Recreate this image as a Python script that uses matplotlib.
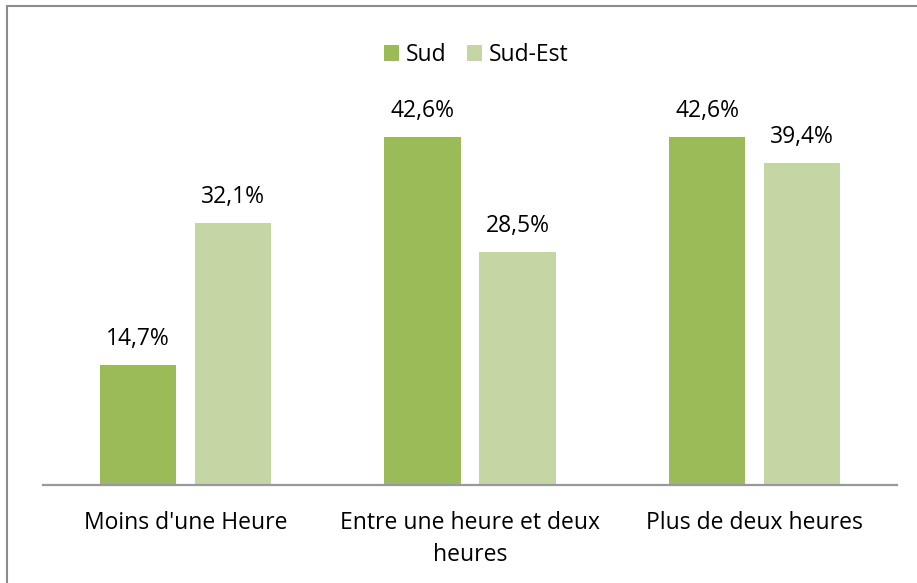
import matplotlib.pyplot as plt
import numpy as np
from matplotlib.patches import Rectangle, Patch


categories = ["Moins d'une Heure", "Entre une heure et deux\nheures", "Plus de deux heures"]
sud = [14.7, 42.6, 42.6]
sud_est = [32.1, 28.5, 39.4]
series_names = ["Sud", "Sud-Est"]

dark = "#9BBB59"
light = "#C4D6A4"

plt.rcParams['font.family'] = ['Open Sans', 'DejaVu Sans']

W, H = 917, 583
fig = plt.figure(figsize=(W / 100, H / 100), dpi=100)
ax = fig.add_axes([43 / W, (H - 485) / H, 854 / W, 367.7 / H])

x = np.arange(len(categories))
bw = 0.269
off = 0.167

b1 = ax.bar(x - off, sud, bw, color=dark, edgecolor='none')
b2 = ax.bar(x + off, sud_est, bw, color=light, edgecolor='none')

def fmt(v):
    return f"{v:.1f}%".replace(".", ",")

for bars, vals in ((b1, sud), (b2, sud_est)):
    for rect, v in zip(bars, vals):
        ax.annotate(fmt(v), (rect.get_x() + rect.get_width() / 2, v),
                    xytext=(0, 14.4), textcoords='offset points',
                    ha='center', va='baseline', fontsize=16.5, color='#000000')

ax.set_xlim(-0.5, 2.5)
ax.set_ylim(0, 45)
ax.set_xticks(x)
ax.set_xticklabels(categories, fontsize=16.5, linespacing=1.4)
ax.tick_params(axis='x', length=0, pad=19)
ax.set_yticks([])
for s in ['top', 'right', 'left']:
    ax.spines[s].set_visible(False)
ax.spines['bottom'].set_color('#999999')
ax.spines['bottom'].set_linewidth(1.6)

handles = [Patch(facecolor=dark, edgecolor='none'), Patch(facecolor=light, edgecolor='none')]
fig.legend(handles, series_names, loc='center', bbox_to_anchor=(476 / W, 1 - 55 / H),
           ncol=2, frameon=False, fontsize=16.5, handlelength=0.65, handleheight=0.65,
           handletextpad=0.3, columnspacing=0.9, borderaxespad=0)

fig.add_artist(Rectangle((7 / W, -0.1), 1.0, (H - 6) / H + 0.1, transform=fig.transFigure,
                         fill=False, edgecolor='#8c8c8c', linewidth=1.5))

fig.savefig("out.png", dpi=100)
